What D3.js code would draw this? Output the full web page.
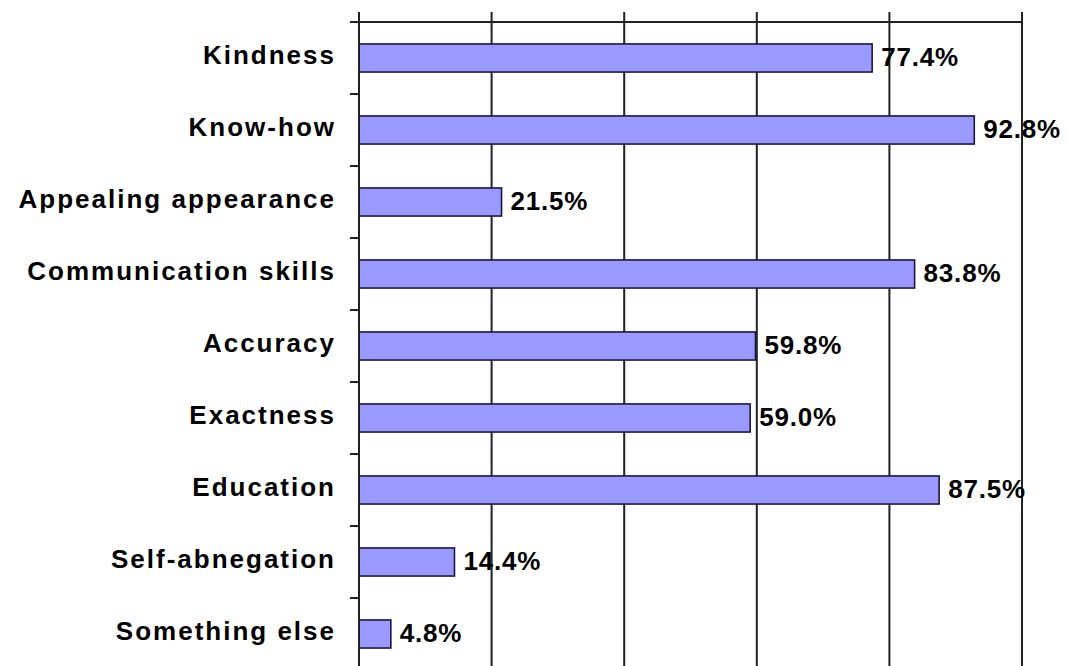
<!DOCTYPE html>
<html>
<head>
<meta charset="utf-8">
<script src="https://cdn.jsdelivr.net/npm/d3@7"></script>
<style>
  html, body { margin: 0; padding: 0; background: #ffffff; }
  svg { display: block; }
</style>
</head>
<body>
<svg id="chart" width="1068" height="666"></svg>
<script>
const categories = ["Kindness", "Know-how", "Appealing appearance", "Communication skills", "Accuracy", "Exactness", "Education", "Self-abnegation", "Something else"];
const values = [77.4, 92.8, 21.5, 83.8, 59.8, 59.0, 87.5, 14.4, 4.8];
const valueTicks = [0, 20, 40, 60, 80, 100];
const valueLabels = ["77.4%", "92.8%", "21.5%", "83.8%", "59.8%", "59.0%", "87.5%", "14.4%", "4.8%"];

(function () {
const svg = d3.select("#chart");
const pLeft = 359, pRight = 1022, pTop = 22, pBottom = 670;

const x = d3.scaleLinear().domain([0, 100]).range([pLeft, pRight]);
const y = d3.scaleBand().domain(categories).range([pTop, pBottom]).paddingInner(0.61).paddingOuter(0.305);

const gridColor = "#222222";

// vertical gridlines (extending above top axis as cross ticks)
svg.append("g").selectAll("line").data(valueTicks).join("line")
  .attr("x1", d => x(d)).attr("x2", d => x(d))
  .attr("y1", pTop - 10).attr("y2", pBottom)
  .attr("stroke", gridColor).attr("stroke-width", 2);

// top value axis line
svg.append("line")
  .attr("x1", pLeft - 9).attr("x2", pRight)
  .attr("y1", pTop).attr("y2", pTop)
  .attr("stroke", gridColor).attr("stroke-width", 2);

// category axis boundary ticks
const boundaries = d3.range(categories.length + 1).map(i => pTop + i * y.step());
svg.append("g").selectAll("line").data(boundaries).join("line")
  .attr("x1", pLeft - 9).attr("x2", pLeft)
  .attr("y1", d => d).attr("y2", d => d)
  .attr("stroke", gridColor).attr("stroke-width", 2);

// bars
svg.append("g").selectAll("rect").data(categories).join("rect")
  .attr("x", x(0))
  .attr("y", d => y(d))
  .attr("width", (d, i) => x(values[i]) - x(0))
  .attr("height", y.bandwidth())
  .attr("fill", "#9999ff")
  .attr("stroke", "#181840")
  .attr("stroke-width", 1.6);

// axis line over bars
svg.append("line")
  .attr("x1", pLeft).attr("x2", pLeft)
  .attr("y1", pTop - 10).attr("y2", pBottom)
  .attr("stroke", gridColor).attr("stroke-width", 2);

// category labels
svg.append("g").selectAll("text").data(categories).join("text")
  .attr("x", 336)
  .attr("y", d => y(d) + y.bandwidth() / 2 - 3)
  .attr("text-anchor", "end")
  .attr("dominant-baseline", "central")
  .attr("font-family", "'Liberation Sans', Arial, sans-serif")
  .attr("font-weight", "bold")
  .attr("font-size", 26)
  .attr("letter-spacing", 2)
  .attr("fill", "#000")
  .text(d => d);

// value labels
svg.append("g").selectAll("text").data(categories).join("text")
  .attr("x", (d, i) => x(values[i]) + 9)
  .attr("y", d => y(d) + y.bandwidth() / 2 - 1)
  .attr("dominant-baseline", "central")
  .attr("font-family", "'Liberation Sans', Arial, sans-serif")
  .attr("font-weight", "bold")
  .attr("font-size", 26)
  .attr("letter-spacing", 0.8)
  .attr("fill", "#000")
  .text((d, i) => valueLabels[i]);
})();
</script>
</body>
</html>
